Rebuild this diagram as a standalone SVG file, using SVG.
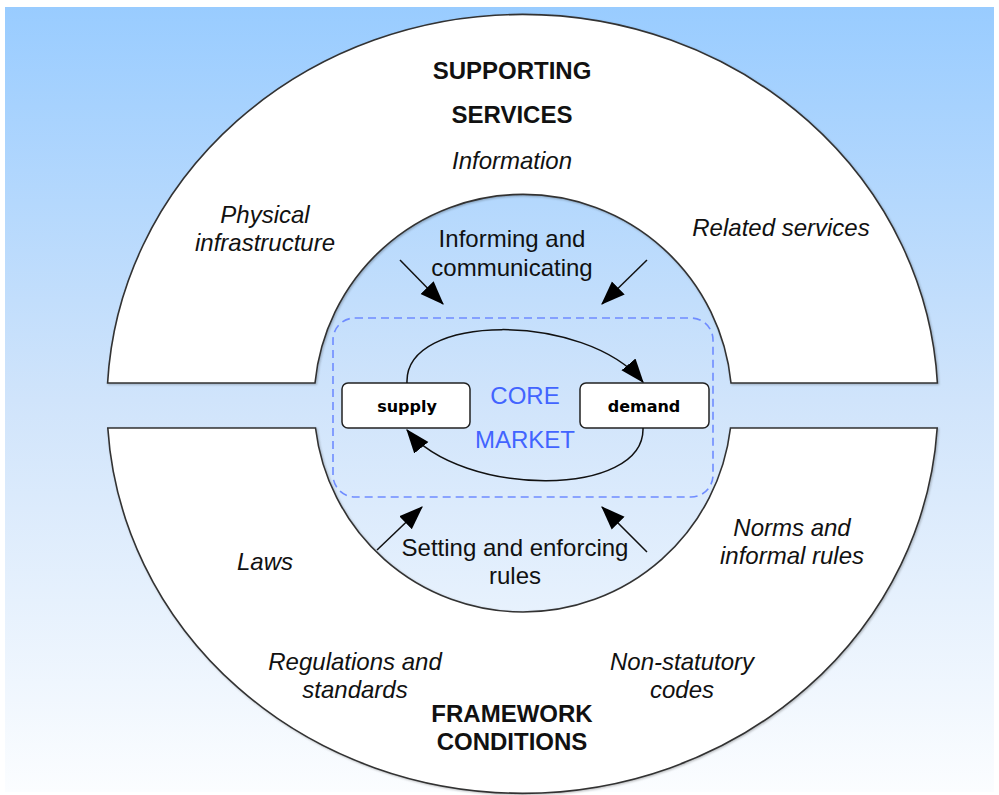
<svg xmlns="http://www.w3.org/2000/svg" width="999" height="795" viewBox="0 0 999 795">
  <defs>
    <linearGradient id="bg" x1="0" y1="0" x2="0" y2="1">
      <stop offset="0" stop-color="#99ccff"/>
      <stop offset="0.5" stop-color="#d0e4fb"/>
      <stop offset="1" stop-color="#fbfdff"/>
    </linearGradient>
    <marker id="ahl" viewBox="0 0 10 10" refX="9.5" refY="5" markerWidth="24" markerHeight="24" markerUnits="userSpaceOnUse" orient="auto">
      <path d="M0,1.2 L10,5 L0,8.8 Z" fill="#000"/>
    </marker>
    <filter id="sh" x="-5%" y="-5%" width="110%" height="110%">
      <feDropShadow dx="1" dy="1" stdDeviation="1" flood-color="#000" flood-opacity="0.25"/>
    </filter>
  </defs>
  <style>
    .ring { fill: #ffffff; stroke: #333333; stroke-width: 1.6; }
    .t { font-family: "Liberation Sans", Arial, sans-serif; font-size: 24px; fill: #111; text-anchor: middle; }
    .it { font-style: italic; }
    .b { font-weight: bold; }
    .core { fill: #4264ff; font-size: 24px; }
    .box { fill: #fff; stroke: #222; stroke-width: 1.5; }
    .bt { font-family: "DejaVu Sans", Verdana, sans-serif; font-weight: bold; font-size: 16px; fill: #000; text-anchor: middle; }
    .conn { fill: none; stroke: #111; stroke-width: 1.5; }
  </style>

  <rect x="5" y="7" width="989" height="785" fill="url(#bg)"/>

  <g id="supporting-services">
    <path class="ring" filter="url(#sh)" d="M107.6,383 A415.5,389.5 0 0 1 937.4,383 L731,383 A209,209 0 0 0 315,383 Z"/>
    <text class="t b" x="512" y="79">SUPPORTING</text>
    <text class="t b" x="512" y="123">SERVICES</text>
    <text class="t it" x="512" y="169">Information</text>
    <text class="t it" x="265" y="223">Physical</text>
    <text class="t it" x="265" y="251">infrastructure</text>
    <text class="t it" x="781" y="236">Related services</text>
  </g>

  <g id="framework-conditions">
    <path class="ring" filter="url(#sh)" d="M107.8,428 L315.5,428 A209,209 0 0 0 730.5,428 L937.2,428 A415.5,389.5 0 0 1 107.8,428 Z"/>
    <text class="t it" x="265" y="570">Laws</text>
    <text class="t it" x="792" y="536">Norms and</text>
    <text class="t it" x="792" y="564">informal rules</text>
    <text class="t it" x="355" y="670">Regulations and</text>
    <text class="t it" x="355" y="698">standards</text>
    <text class="t it" x="682" y="670">Non-statutory</text>
    <text class="t it" x="682" y="698">codes</text>
    <text class="t b" x="512" y="722">FRAMEWORK</text>
    <text class="t b" x="512" y="750">CONDITIONS</text>
  </g>

  <g id="inner-circle">
    <text class="t" x="512" y="247">Informing and</text>
    <text class="t" x="512" y="276">communicating</text>
    <text class="t" x="515" y="556">Setting and enforcing</text>
    <text class="t" x="515" y="584">rules</text>
  </g>

  <g id="core-market">
    <rect x="333" y="318" width="380" height="179" rx="22" ry="22" fill="none" stroke="#6f8cff" stroke-width="1.6" stroke-dasharray="8,5"/>
    <text class="t core" x="525" y="404">CORE</text>
    <text class="t core" x="525" y="448">MARKET</text>
  </g>

  <g id="supply">
    <rect class="box" x="342" y="383" width="128" height="45" rx="6" ry="6"/>
    <text class="bt" x="407" y="412">supply</text>
  </g>

  <g id="demand">
    <rect class="box" x="580" y="383" width="129" height="45" rx="6" ry="6"/>
    <text class="bt" x="644" y="412">demand</text>
  </g>

  <g id="connectors">
    <path class="conn" d="M407,383 C404,312 585,312 643,382" marker-end="url(#ahl)"/>
    <path class="conn" d="M643,428 C645,498 462,498 407,430" marker-end="url(#ahl)"/>
    <line class="conn" x1="400" y1="260" x2="443" y2="304" marker-end="url(#ahl)"/>
    <line class="conn" x1="647" y1="260" x2="602" y2="304" marker-end="url(#ahl)"/>
    <line class="conn" x1="377" y1="550" x2="422" y2="507" marker-end="url(#ahl)"/>
    <line class="conn" x1="647" y1="552" x2="602" y2="507" marker-end="url(#ahl)"/>
  </g>
</svg>
